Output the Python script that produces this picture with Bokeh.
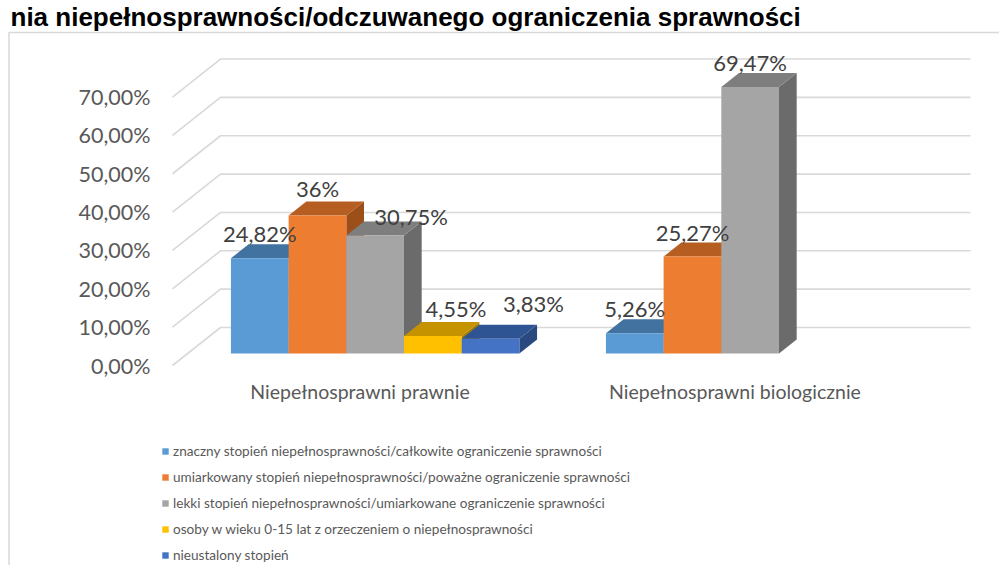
from bokeh.plotting import figure
from bokeh.models import (Range1d, LinearAxis, FixedTicker, CustomJSTickFormatter,
                          Legend, LegendItem)
from bokeh.core.properties import value
from bokeh.embed import file_html
from bokeh.resources import INLINE

# ---------------- data ----------------
title_text = "nia niepełnosprawności/odczuwanego ograniczenia sprawności"
categories = ["Niepełnosprawni prawnie", "Niepełnosprawni biologicznie"]
series_names = [
    "znaczny stopień niepełnosprawności/całkowite ograniczenie sprawności",
    "umiarkowany stopień niepełnosprawności/poważne ograniczenie sprawności",
    "lekki stopień niepełnosprawności/umiarkowane ograniczenie sprawności",
    "osoby w wieku 0-15 lat z orzeczeniem o niepełnosprawności",
    "nieustalony stopień",
]
znaczny = [24.82, 5.26]
umiarkowany = [36.00, 25.27]
lekki = [30.75, 69.47]
dzieci = [4.55, None]
nieustalony = [3.83, None]

labels_znaczny = ["24,82%", "5,26%"]
labels_umiarkowany = ["36%", "25,27%"]
labels_lekki = ["30,75%", "69,47%"]
labels_dzieci = ["4,55%", None]
labels_nieustalony = ["3,83%", None]

tick_values = [0, 10, 20, 30, 40, 50, 60, 70]
tick_labels = ["0,00%", "10,00%", "20,00%", "30,00%", "40,00%", "50,00%", "60,00%", "70,00%"]

series_values = [znaczny, umiarkowany, lekki, dzieci, nieustalony]
series_labels = [labels_znaczny, labels_umiarkowany, labels_lekki, labels_dzieci, labels_nieustalony]

# ---------------- styling / layout ----------------
front_colors = ["#5B9BD5", "#ED7D31", "#A5A5A5", "#FFC000", "#4472C4"]
top_colors = ["#42729F", "#B65E22", "#7E7E7E", "#C59300", "#2E5493"]
side_colors = ["#3A6590", "#9D4F1A", "#6B6B6B", "#A67C00", "#29497F"]

W, H = 999, 565
Y_ZERO = 365            # y (px from top) of 0 % on the front plane
YS = 3.835              # px per percent
FRONT_LEFT = 172        # x of front-left corner of the plot area
CAT_W = 375             # px per category (front plane)
WALL_DX, WALL_DY = 48, 38
WALL_RIGHT = 970
BAR_F0, BAR_F1 = 12 / 38, 26 / 38   # depth fractions of bar front / back
GAP = 1.5               # gap width (in bar widths)
LABEL_UP = 24.5         # px above bar front top
BORDER_TOP = 32
# manual data-label nudges (px): (series, category) -> (dx, dy up)
label_nudge = {(1, 0): (0, 2.5), (2, 0): (36, -5.5), (3, 0): (23, 3.5), (4, 0): (43, 10.5)}

FONT = value("Lato")
GRID = "#D9D9D9"


def vy(py):
    return (Y_ZERO - py) / YS


p = figure(width=W, height=H, output_backend="svg", toolbar_location=None,
           x_range=Range1d(0, W), y_range=Range1d(vy(H), vy(0)),
           x_axis_type=None, y_axis_type=None, min_border=0)
p.outline_line_color = None
p.background_fill_color = "white"
p.border_fill_color = "white"

# chart-area border (left and top)
p.line(x=[8.5, 8.5, W], y=[vy(H), vy(BORDER_TOP), vy(BORDER_TOP)],
       line_color=GRID, line_width=1.5)

# title
p.text(x=[10], y=[vy(1)], text=[title_text], text_font=value("Liberation Sans"),
       text_font_style="bold", text_font_size="26px", text_color="black",
       text_baseline="top", text_align="left")

# walls: gridlines (left wall diagonal + back wall)
wall_dy = WALL_DY / YS
p.multi_line(xs=[[FRONT_LEFT, FRONT_LEFT + WALL_DX, WALL_RIGHT] for _ in tick_values],
             ys=[[t, t + wall_dy, t + wall_dy] for t in tick_values],
             line_color=GRID, line_width=1.6)

# bars
n_series = len(series_values)
bar_w = CAT_W / (n_series + GAP)
group_off = (CAT_W - n_series * bar_w) / 2
bx0 = BAR_F0 * WALL_DX
by0 = BAR_F0 * WALL_DY / YS
bdx = (BAR_F1 - BAR_F0) * WALL_DX
bdy = (BAR_F1 - BAR_F0) * WALL_DY / YS

legend_items = []
lab_x, lab_y, lab_t = [], [], []
for j, vals in enumerate(series_values):
    L, R, B, T = [], [], [], []
    top_xs, top_ys, side_xs, side_ys = [], [], [], []
    for i, v in enumerate(vals):
        if v is None:
            continue
        xl = FRONT_LEFT + i * CAT_W + bx0 + group_off + j * bar_w
        xr = xl + bar_w
        b = by0
        t = by0 + v
        L.append(xl); R.append(xr); B.append(b); T.append(t)
        top_xs.append([xl, xr, xr + bdx, xl + bdx])
        top_ys.append([t, t, t + bdy, t + bdy])
        side_xs.append([xr, xr + bdx, xr + bdx, xr])
        side_ys.append([b, b + bdy, t + bdy, t])
        dx, dup = label_nudge.get((j, i), (0, 0))
        lab_x.append((xl + xr) / 2 + dx)
        lab_y.append(t + (LABEL_UP + dup) / YS)
        lab_t.append(series_labels[j][i])
    p.patches(xs=side_xs, ys=side_ys, fill_color=side_colors[j], line_color=None)
    p.patches(xs=top_xs, ys=top_ys, fill_color=top_colors[j], line_color=None)
    r = p.quad(left=L, right=R, bottom=B, top=T, fill_color=front_colors[j], line_color=None)
    legend_items.append(LegendItem(label=series_names[j], renderers=[r]))

# data labels
p.text(x=lab_x, y=lab_y, text=lab_t, text_font=FONT, text_font_size="22px",
       text_color="#404040", text_align="center", text_baseline="middle")

# y axis (front plane, left wall)
yaxis = LinearAxis(fixed_location=FRONT_LEFT,
                   ticker=FixedTicker(ticks=tick_values),
                   formatter=CustomJSTickFormatter(args=dict(labels=tick_labels, vals=tick_values),
                                                   code="return labels[vals.indexOf(tick)];"))
yaxis.axis_line_color = None
yaxis.major_tick_line_color = None
yaxis.minor_tick_line_color = None
yaxis.major_tick_out = 0
yaxis.major_tick_in = 0
yaxis.major_label_standoff = 22
yaxis.major_label_text_font = "Lato"
yaxis.major_label_text_font_size = "21.5px"
yaxis.major_label_text_color = "#595959"
p.add_layout(yaxis, "left")

# x axis (category labels)
cat_centers = [FRONT_LEFT + (i + 0.5) * CAT_W for i in range(len(categories))]
xaxis = LinearAxis(fixed_location=0,
                   ticker=FixedTicker(ticks=cat_centers),
                   formatter=CustomJSTickFormatter(args=dict(labels=categories, vals=cat_centers),
                                                   code="return labels[vals.indexOf(tick)];"))
xaxis.axis_line_color = None
xaxis.major_tick_line_color = None
xaxis.minor_tick_line_color = None
xaxis.major_tick_out = 0
xaxis.major_tick_in = 0
xaxis.major_label_standoff = 14
xaxis.major_label_text_font = "Lato"
xaxis.major_label_text_font_size = "19.5px"
xaxis.major_label_text_color = "#595959"
p.add_layout(xaxis, "below")

# legend
legend = Legend(items=legend_items, location=(161, 2), orientation="vertical",
                glyph_width=8, glyph_height=8, label_height=17, spacing=9,
                label_standoff=4, padding=0, margin=0,
                border_line_color=None, background_fill_alpha=0,
                label_text_font="Lato", label_text_font_size="13.6px",
                label_text_color="#595959")
p.add_layout(legend, "center")

open("out.html", "w").write(file_html(p, INLINE))
